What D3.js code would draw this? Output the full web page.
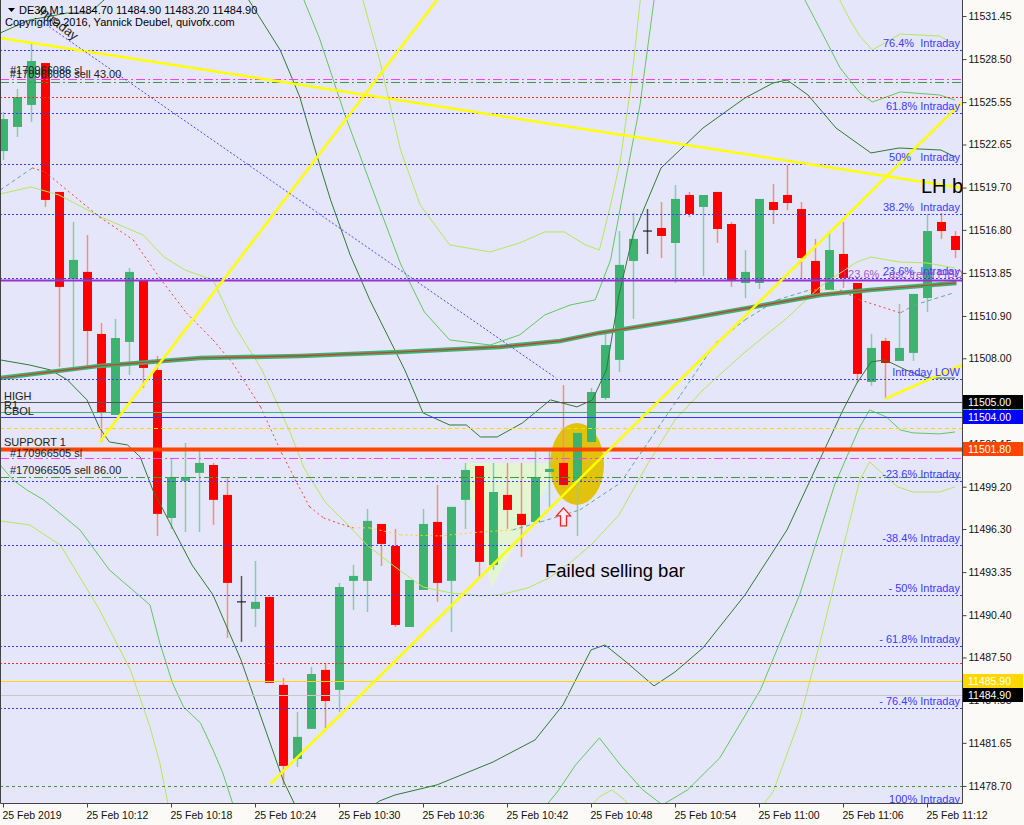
<!DOCTYPE html>
<html lang="en">
<head>
<meta charset="UTF-8"/>
<title>DE30 M1 - Failed selling bar</title>
<script src="https://d3js.org/d3.v7.min.js"></script>
<style>
    body { margin: 0; background: #fcfaf6; }
    svg text { font-family: "Liberation Sans", Arial, sans-serif; }
</style>
</head>
<body>
<div id="chart"></div>
<script>
// ---- candles, one per minute, index 0 = 10:06 ----
var opens  = [11522.20,11523.85,11525.36,11528.23,11519.40,11513.44,11513.92,11509.67,11504.12,11509.12,
              11513.30,11507.20,11497.06,11499.60,11500.15,11500.69,11498.64,11491.31,11490.83,11491.65,
              11485.62,11480.55,11482.61,11486.65,11485.28,11492.75,11492.75,11496.65,11495.14,11489.59,
              11492.13,11496.79,11492.75,11498.30,11500.62,11493.84,11498.64,11497.34,11496.79,11500.21,
              11500.83,11499.60,11502.27,11505.28,11507.89,11514.67,11516.72,11516.93,11515.90,11519.19,
              11518.37,11519.40,11517.20,11513.16,11513.16,11518.71,11519.19,11518.23,11514.67,11512.68,
              11515.15,11513.16,11506.38,11509.19,11507.82,11508.37,11512.13,11517.34,11516.38];
var highs  = [11524.87,11526.45,11529.67,11528.23,11519.40,11517.34,11516.45,11510.42,11510.70,11514.19,
              11513.30,11508.16,11501.17,11502.20,11501.65,11500.83,11499.87,11493.09,11494.12,11491.65,
              11486.10,11483.77,11486.85,11487.13,11492.61,11493.84,11497.68,11496.65,11496.31,11492.81,
              11497.68,11499.32,11497.82,11500.83,11500.62,11500.83,11500.83,11500.83,11501.65,11501.65,
              11506.17,11502.89,11505.97,11509.94,11516.72,11517.96,11518.23,11518.71,11519.88,11519.40,
              11519.19,11519.40,11517.34,11515.42,11518.92,11519.94,11521.25,11518.71,11516.18,11516.72,
              11517.34,11513.16,11509.67,11509.39,11511.72,11512.41,11517.89,11517.96,11516.72];
var lows   = [11521.59,11523.16,11524.19,11518.37,11507.41,11507.41,11507.34,11502.27,11504.12,11506.86,
              11505.97,11495.83,11496.31,11496.10,11496.10,11496.58,11488.84,11488.57,11489.59,11485.76,
              11478.77,11480.00,11482.61,11482.67,11483.77,11490.76,11490.62,11493.77,11489.59,11489.59,
              11492.13,11491.31,11489.25,11496.31,11493.02,11493.50,11496.31,11494.39,11496.79,11497.82,
              11499.19,11495.83,11502.06,11505.15,11507.06,11510.70,11515.15,11514.87,11513.16,11517.68,
              11513.64,11515.90,11512.89,11512.13,11512.75,11517.20,11518.16,11513.44,11512.20,11512.68,
              11512.82,11506.31,11506.11,11505.22,11507.82,11507.82,11511.18,11516.18,11514.87];
var closes = [11524.39,11525.90,11528.37,11518.85,11512.89,11514.74,11509.87,11504.32,11509.39,11513.92,
              11507.34,11497.34,11499.87,11499.87,11500.83,11498.30,11492.61,11491.31,11491.31,11485.76,
              11480.07,11482.06,11486.37,11484.52,11492.33,11493.09,11496.86,11495.28,11489.73,11492.81,
              11496.65,11492.61,11497.82,11500.35,11494.05,11498.84,11497.61,11496.58,11499.87,11500.42,
              11499.32,11502.89,11505.69,11508.91,11514.40,11516.18,11516.72,11516.38,11518.92,11517.89,
              11519.19,11516.86,11513.37,11513.92,11518.92,11518.16,11518.64,11514.87,11512.20,11515.42,
              11513.50,11506.93,11508.71,11507.68,11508.71,11512.41,11516.72,11516.72,11515.42];

// ---- axis ticks ----
var priceTicks = [11531.45,11528.50,11525.55,11522.65,11519.70,11516.80,11513.85,11510.90,11508.00,11505.05,
                  11502.15,11499.20,11496.30,11493.35,11490.40,11487.50,11484.55,11481.65,11478.70];
var timeTickIdx = [0,6,12,18,24,30,36,42,48,54,60,66];
var timeLabels = ["25 Feb 2019","25 Feb 10:12","25 Feb 10:18","25 Feb 10:24","25 Feb 10:30","25 Feb 10:36",
                  "25 Feb 10:42","25 Feb 10:48","25 Feb 10:54","25 Feb 11:00","25 Feb 11:06","25 Feb 11:12"];

// ---- indicator lines [bar index, price]; null = gap ----
var maSlow = [[-0.2,11506.65],[6.9,11507.48],[14.1,11508.02],[21.2,11508.16],[28.4,11508.43],[35.5,11508.78],
              [39.8,11509.19],[42.6,11509.74],[48.4,11510.63],[53.6,11511.52],[58.4,11512.34],[61.9,11512.68],[68.1,11513.16]];
var midDotted = [[-0.2,11519.53],[2.1,11521.04],[3.0,11520.77],[6.9,11517.68],[9.3,11516.11],[11.2,11513.50],
                 [13.1,11511.11],[15.0,11509.26],[16.4,11507.68],[18.4,11504.67],[19.9,11501.51],[21.0,11499.46],
                 [21.9,11497.82],[22.9,11497.06],[23.9,11496.72],[25.0,11496.38],[26.2,11496.38],[28.4,11495.90],
                 [31.2,11495.83],[34.1,11496.10],[36.4,11496.24],[38.4,11496.79],[41.2,11497.61],[44.1,11499.46],
                 [46.2,11502.41],[48.4,11505.49],[50.9,11509.05],[53.0,11510.63],[55.3,11512.00],[57.6,11512.68],
                 [59.8,11512.68],[61.2,11512.00],[64.1,11511.11],[65.1,11511.65],[67.9,11512.48]];
var bandMid = [[-0.2,11519.26],[2.0,11519.74],[4.0,11519.19],[7.0,11517.68],[10.0,11516.45],[11.5,11514.94],
               [13.0,11514.05],[15.0,11513.37],[16.5,11510.28],[18.5,11507.20],[20.5,11502.95],[21.5,11500.49],
               [23.0,11498.16],[24.5,11496.72],[26.0,11495.21],[28.0,11493.71],[30.0,11492.33],[32.0,11491.92],
               [34.0,11491.72],[35.5,11491.79],[37.5,11492.27],[39.0,11492.95],[40.5,11493.98],[42.0,11495.21],
               [44.0,11497.27],[46.0,11500.69],[48.0,11503.78],[50.0,11505.83],[53.0,11508.43],[56.0,11510.76],
               [58.5,11513.02],[61.0,11514.60],[62.0,11514.94],[64.0,11514.60],[66.0,11514.53],[68.0,11514.19]];
var innerUpper = [[-0.2,11530.29],[1.9,11531.18],[4.6,11531.66],[6.2,11531.66],[8.0,11533.24],null,
                  [17.1,11533.24],[19.8,11529.12],[20.7,11527.07],[21.2,11525.90],[22.3,11522.27],[23.4,11518.85],
                  [24.8,11515.08],[26.2,11512.00],[28.7,11507.20],[30.0,11504.26],[31.9,11503.43],[33.1,11503.43],
                  [34.1,11502.61],[35.3,11502.61],[37.1,11503.57],[39.1,11505.15],[41.0,11504.67],[42.1,11505.15],
                  [43.1,11507.20],[44.0,11512.34],[45.0,11516.45],[47.0,11521.04],[50.0,11523.78],[53.0,11525.84],
                  [55.0,11526.86],[56.0,11527.07],[57.5,11526.04],[59.5,11523.78],[61.0,11522.75],[62.0,11522.07],
                  [64.0,11522.41],[67.0,11522.27],[68.0,11521.79]];
var innerLower = [[-0.2,11507.89],[1.9,11507.54],[3.4,11507.20],[4.6,11506.52],[6.0,11505.15],[6.9,11503.23],
                  [7.6,11502.27],[8.9,11502.06],[9.8,11501.24],[10.7,11498.98],[12.0,11496.58],[13.5,11493.84],
                  [15.0,11491.79],[17.0,11487.33],[18.5,11483.22],[20.0,11479.11],[21.2,11476.71],null,
                  [25.5,11476.71],[26.9,11477.67],[28.0,11478.08],[31.0,11478.77],[35.0,11480.34],[38.0,11481.85],
                  [40.0,11484.25],[42.0,11488.02],[43.0,11488.36],[44.5,11487.20],[46.5,11485.55],[48.0,11486.51],
                  [50.0,11488.16],[53.0,11491.79],[56.0,11496.24],[58.5,11501.38],[60.0,11504.46],[61.0,11506.31],
                  [62.0,11507.75],[63.0,11507.89],[64.5,11507.20],[66.0,11506.65],[68.0,11506.65]];
var middleUpper = [[21.2,11533.24],[22.6,11529.95],[24.4,11524.74],[26.6,11519.05],[28.4,11514.46],[30.1,11511.17],
                   [31.9,11509.26],[34.8,11508.91],[36.9,11509.60],[38.7,11510.97],[40.5,11511.65],[42.3,11512.00],
                   [43.4,11514.74],[44.4,11519.88],[45.5,11525.36],[46.6,11533.24],null,
                   [56.9,11533.24],[58.4,11530.49],[59.8,11527.89],[61.2,11526.18],[62.1,11525.56],[64.1,11526.25],
                   [66.9,11526.04],[68.0,11525.70]];
var middleLower = [[-0.2,11500.69],[0.7,11499.67],[1.7,11498.98],[2.9,11498.30],[5.5,11496.24],[7.6,11493.50],
                   [10.5,11491.10],[11.2,11488.50],[12.1,11485.76],[12.9,11484.11],[14.1,11483.02],[15.0,11481.17],
                   [15.7,11479.59],[16.6,11476.92],null,
                   [38.4,11476.92],[39.6,11478.29],[40.9,11480.14],[42.6,11481.99],[44.1,11480.14],[45.7,11478.43],
                   [47.1,11477.40],[48.9,11478.43],[51.2,11480.62],[54.1,11485.28],[56.9,11491.79],[59.4,11499.32],
                   [61.2,11503.30],[61.9,11504.46],[63.1,11503.98],[64.1,11503.09],[65.0,11502.89],[66.9,11502.82],[68.0,11502.95]];
var outerUpper = [[25.5,11533.24],[26.9,11528.44],[28.4,11522.27],[29.8,11518.51],[31.9,11515.77],[34.8,11515.29],
                  [36.9,11515.90],[38.7,11516.66],[40.1,11516.66],[41.6,11515.77],[42.6,11515.42],[43.4,11518.51],
                  [44.1,11521.59],[44.9,11527.07],[45.6,11533.24],null,
                  [59.4,11533.24],[60.5,11531.18],[61.2,11530.08],[62.1,11529.13],[64.1,11530.22],[66.9,11530.08],[68.0,11529.47]];
var outerLower = [[-0.2,11496.86],[1.9,11496.58],[4.1,11495.21],[6.9,11490.76],[9.1,11486.65],[10.5,11482.74],
                  [11.2,11480.28],[11.9,11476.92],null,
                  [41.6,11476.92],[42.6,11477.95],[43.5,11478.43],[44.4,11477.74],[45.1,11476.92],null,
                  [53.9,11476.92],[55.0,11478.29],[56.9,11483.22],[58.4,11488.70],[59.8,11494.19],[61.2,11499.67],
                  [61.9,11500.90],[63.9,11499.19],[65.0,11498.84],[66.9,11498.84],[68.0,11499.19]];

// ---- horizontal levels ----
var fibPrices = [11529.12,11524.81,11521.31,11517.89,11513.50,11506.59,11499.60,11495.21,11491.79,11488.29,11484.05,11477.33];
var fibLabels = ["76.4%  Intraday","61.8% Intraday","50%   Intraday","38.2%  Intraday","23.6%  Intraday","Intraday LOW",
                 "-23.6% Intraday","-38.4% Intraday","- 50% Intraday","- 61.8% Intraday","- 76.4% Intraday","100% Intraday"];
var levelNames  = ["sellOrder","orderTp","redDot1","purple","high","cbol","pivot","yellowDash","support","sellOrder2","orderTp2","redDot2","bid","ask","greenDot"];
var levelPrices = [11527.17,11526.93,11525.90,11513.37,11505.00,11504.32,11504.00,11503.23,11501.80,11501.14,11499.87,11487.13,11485.90,11484.90,11478.70];
var tagNames  = ["cbol","high","pivot","support","bid","ask"];
var tagPrices = [11504.32,11505.00,11504.00,11501.80,11485.90,11484.90];

// ---- drawn objects [bar index, price] ----
var trendLines = [[6.9,11502.27,31.0,11532.55],[-0.2,11529.95,68.5,11519.67],[19.1,11478.84,68.5,11525.56],[63.0,11505.22,68.5,11507.55]];
var channelLine = [2.6,11531.18,39.5,11506.65];
var triangle = [[32.9,11500.83],[39.8,11500.83],[34.9,11492.27]];
var ellipseAt = [41.0,11500.76];

// ---- layout ----
var width = 1024, height = 825, plotW = 962, plotH = 803;

var svg = d3.select("#chart").append("svg")
    .attr("width", width)
    .attr("height", height);

svg.append("rect").attr("width", width).attr("height", height).attr("fill", "#fcfaf6");

var xScale = d3.scaleLinear().domain([0, 68]).range([3, 955]);
var yScale = d3.scaleLinear().domain([11477.53, 11532.55]).range([plotH, 0]);

svg.append("clipPath").attr("id", "plotClip")
    .append("rect").attr("width", plotW).attr("height", plotH);

var plot = svg.append("g").attr("clip-path", "url(#plotClip)");
plot.append("rect").attr("width", plotW).attr("height", plotH).attr("fill", "#e6e6fa");

var line = d3.line()
    .defined(function(d) { return d !== null; })
    .x(function(d) { return xScale(d[0]); })
    .y(function(d) { return yScale(d[1]); });

// background objects
plot.append("path")
    .attr("d", line(triangle) + "Z")
    .attr("fill", "#e3f6cf").attr("opacity", 0.9);

var ex = xScale(ellipseAt[0]), ey = yScale(ellipseAt[1]);
plot.append("ellipse")
    .attr("cx", ex).attr("cy", ey)
    .attr("rx", xScale(ellipseAt[0] + 1.93) - ex)
    .attr("ry", yScale(ellipseAt[1] - 2.81) - ey)
    .attr("fill", "#e2c30c");

// candles
var bars = d3.range(opens.length).map(function(i) {
    return { i: i, o: opens[i], h: highs[i], l: lows[i], c: closes[i] };
});
function barColor(d) { return d.c > d.o ? "#3cb371" : (d.c < d.o ? "#ff0000" : "#000000"); }
function wickColor(d) { return d.c > d.o ? "#8cc9ad" : (d.c < d.o ? "#f28c8c" : "#555555"); }

plot.selectAll("line.wick").data(bars).enter().append("line")
    .attr("class", "wick")
    .attr("x1", function(d) { return xScale(d.i) + 0.5; })
    .attr("x2", function(d) { return xScale(d.i) + 0.5; })
    .attr("y1", function(d) { return yScale(d.h); })
    .attr("y2", function(d) { return yScale(d.l); })
    .attr("stroke", wickColor)
    .attr("stroke-width", 1.5);

plot.selectAll("rect.body").data(bars.filter(function(d) { return d.o !== d.c; })).enter().append("rect")
    .attr("class", "body")
    .attr("x", function(d) { return xScale(d.i) - 4; })
    .attr("width", 9)
    .attr("y", function(d) { return yScale(Math.max(d.o, d.c)); })
    .attr("height", function(d) { return Math.max(1, yScale(Math.min(d.o, d.c)) - yScale(Math.max(d.o, d.c))); })
    .attr("fill", barColor);

plot.selectAll("line.doji").data(bars.filter(function(d) { return d.o === d.c; })).enter().append("line")
    .attr("class", "doji")
    .attr("x1", function(d) { return xScale(d.i) - 4; })
    .attr("x2", function(d) { return xScale(d.i) + 5; })
    .attr("y1", function(d) { return yScale(d.o); })
    .attr("y2", function(d) { return yScale(d.o); })
    .attr("stroke", "#000").attr("stroke-width", 1);

// bands
function drawLine(data, color, w, dash) {
    plot.append("path").attr("d", line(data))
        .attr("fill", "none").attr("stroke", color)
        .attr("stroke-width", w).attr("stroke-dasharray", dash || null);
}
drawLine(outerUpper, "#b4e85a", 1);
drawLine(outerLower, "#b4e85a", 1);
drawLine(middleUpper, "#5fc95f", 1);
drawLine(middleLower, "#5fc95f", 1);
drawLine(innerUpper, "#2f7b34", 1);
drawLine(innerLower, "#2f7b34", 1);
drawLine(bandMid, "#b4e85a", 1);

// mid dotted line coloured by direction
for (var s = 0; s < midDotted.length - 1; s++) {
    var a = midDotted[s], b = midDotted[s + 1];
    var slope = (b[1] - a[1]) / (b[0] - a[0]);
    var col = slope > 0.25 ? "#5fa8a0" : (slope < -0.25 ? "#ff3b3b" : "#ffd21f");
    plot.append("line")
        .attr("x1", xScale(a[0])).attr("y1", yScale(a[1]))
        .attr("x2", xScale(b[0])).attr("y2", yScale(b[1]))
        .attr("stroke", col).attr("stroke-width", 1)
        .attr("stroke-dasharray", slope > 0.25 ? "4,3" : "2,3");
}

// slow moving average
drawLine(maSlow, "#3cb371", 4.5);
drawLine(maSlow, "#e0302a", 1.2);

// horizontal levels
var levelStyle = {
    sellOrder:  { c: "#ff3cff", w: 1.2, d: "9,3,2,3" },
    orderTp:    { c: "#3c9a3c", w: 1.2, d: "9,3,2,3" },
    redDot1:    { c: "#e83030", w: 1, d: "2,2" },
    purple:     { c: "#9932cc", w: 2, d: null },
    high:       { c: "#555555", w: 1, d: null },
    cbol:       { c: "#3cb371", w: 1, d: null },
    pivot:      { c: "#3535ff", w: 1, d: null },
    yellowDash: { c: "#ffd700", w: 1, d: "4,3" },
    support:    { c: "#ff4500", w: 4, d: null },
    sellOrder2: { c: "#ff3cff", w: 1.2, d: "9,3,2,3" },
    orderTp2:   { c: "#3c9a3c", w: 1.2, d: "9,3,2,3" },
    redDot2:    { c: "#e83030", w: 1, d: "2,2" },
    bid:        { c: "#ffd700", w: 1, d: null },
    ask:        { c: "#c8c8c8", w: 1, d: null },
    greenDot:   { c: "#3c9a3c", w: 1, d: "3,3" }
};

plot.selectAll("line.fib").data(fibPrices).enter().append("line")
    .attr("class", "fib")
    .attr("x1", 0).attr("x2", plotW)
    .attr("y1", function(d) { return Math.round(yScale(d)) + 0.5; })
    .attr("y2", function(d) { return Math.round(yScale(d)) + 0.5; })
    .attr("stroke", "#3a3aff").attr("stroke-width", 1).attr("stroke-dasharray", "2,2");

plot.selectAll("line.level").data(levelPrices).enter().append("line")
    .attr("class", "level")
    .attr("x1", 0).attr("x2", plotW)
    .attr("y1", function(d) { return Math.round(yScale(d)) + 0.5; })
    .attr("y2", function(d) { return Math.round(yScale(d)) + 0.5; })
    .attr("stroke", function(d, i) { return levelStyle[levelNames[i]].c; })
    .attr("stroke-width", function(d, i) { return levelStyle[levelNames[i]].w; })
    .attr("stroke-dasharray", function(d, i) { return levelStyle[levelNames[i]].d; });

// trend lines
plot.selectAll("line.trend").data(trendLines).enter().append("line")
    .attr("x1", function(d) { return xScale(d[0]); }).attr("y1", function(d) { return yScale(d[1]); })
    .attr("x2", function(d) { return xScale(d[2]); }).attr("y2", function(d) { return yScale(d[3]); })
    .attr("stroke", "#ffff00").attr("stroke-width", 2.5);

plot.append("line")
    .attr("x1", xScale(channelLine[0])).attr("y1", yScale(channelLine[1]))
    .attr("x2", xScale(channelLine[2])).attr("y2", yScale(channelLine[3]))
    .attr("stroke", "#4a4aff").attr("stroke-width", 1).attr("stroke-dasharray", "2,2");

// up arrow under the failed bar
var ax = xScale(40) + 0.5, ay = yScale(11497.75);
plot.append("path")
    .attr("d", "M" + ax + "," + ay + " l7,8 h-4 v10 h-6 v-10 h-4 Z")
    .attr("fill", "#f4eef4").attr("stroke", "#ff2020").attr("stroke-width", 1.3);

// texts on the chart
plot.append("text").attr("x", 545).attr("y", 577)
    .attr("font-size", "18.5px").attr("fill", "#000").text("Failed selling bar");
plot.append("text").attr("x", 921).attr("y", 193)
    .attr("font-size", "20px").attr("fill", "#000").text("LH b");

plot.selectAll("text.fib").data(fibPrices).enter().append("text")
    .attr("class", "fib")
    .attr("x", plotW - 2)
    .attr("y", function(d) { return yScale(d) - 3; })
    .attr("text-anchor", "end")
    .attr("font-size", "11px")
    .attr("fill", "#3a3aff")
    .style("white-space", "pre")
    .text(function(d, i) { return fibLabels[i]; });

plot.append("text").attr("x", 842).attr("y", yScale(11513.37) - 2)
    .attr("font-size", "11px").attr("fill", "#9932cc").attr("opacity", 0.8)
    .text("123.6% - asc trend FIBO");

var leftLabels = [["HIGH", 11505.00, -2], ["R1", 11505.00, 7], ["CBOL", 11504.32, 3], ["SUPPORT 1", 11501.80, -3],
                  ["#170966505 sl", 11501.14, -1], ["#170966505 sell 86.00", 11499.87, -3]];
plot.selectAll("text.left").data(leftLabels).enter().append("text")
    .attr("x", function(d, i) { return i > 3 ? 10 : 4; })
    .attr("y", function(d) { return yScale(d[1]) + d[2]; })
    .attr("font-size", "11px").attr("fill", "#222")
    .text(function(d) { return d[0]; });

plot.append("text").attr("x", 10).attr("y", 74).attr("font-size", "11px").attr("fill", "#222").text("#170966086 sl");
plot.append("text").attr("x", 10).attr("y", 78).attr("font-size", "11px").attr("fill", "#222").text("#170966088 sell 43.00");

plot.append("text")
    .attr("transform", "translate(74,41) rotate(38)")
    .attr("text-anchor", "end")
    .attr("font-size", "13px").attr("fill", "#222")
    .text("Intraday");

plot.append("path").attr("d", "M8,8 h7 l-3.5,4 Z").attr("fill", "#000");
plot.append("text").attr("x", 19).attr("y", 14).attr("font-size", "11px").attr("fill", "#000")
    .text("DE30,M1  11484.70 11484.90 11483.20 11484.90");
plot.append("text").attr("x", 5).attr("y", 26).attr("font-size", "11px").attr("fill", "#000")
    .text("Copyright\u00a9 2016, Yannick Deubel, quivofx.com");

// frame
svg.append("path")
    .attr("d", "M0.5,0 V" + (plotH + 0.5) + " H" + (plotW + 0.5) + " V0")
    .attr("fill", "none").attr("stroke", "#444").attr("stroke-width", 1);

// price axis
var yAxis = d3.axisRight(yScale).tickValues(priceTicks).tickSize(4)
    .tickFormat(d3.format(".2f"));
var yG = svg.append("g").attr("transform", "translate(" + (plotW + 0.5) + ",0)").call(yAxis);
yG.select(".domain").remove();
yG.selectAll("text").attr("font-size", "10.5px").attr("fill", "#111").attr("x", 6);
yG.selectAll("line").attr("stroke", "#444");

// time axis
var xAxis = d3.axisBottom(xScale).tickValues(timeTickIdx).tickSize(4)
    .tickFormat(function(d, i) { return timeLabels[i]; });
var xG = svg.append("g").attr("transform", "translate(0," + (plotH + 0.5) + ")").call(xAxis);
xG.select(".domain").remove();
xG.selectAll("text").attr("font-size", "10.5px").attr("fill", "#111")
    .attr("text-anchor", "start").attr("x", -1).attr("y", 8);
xG.selectAll("line").attr("stroke", "#444");

// price tags on the axis
var tagFill = { cbol: "#3cb371", high: "#000000", pivot: "#0000ff", support: "#ff4500", bid: "#ffd700", ask: "#000000" };
var tags = svg.selectAll("g.tag").data(tagPrices).enter().append("g")
    .attr("transform", function(d) { return "translate(" + (plotW + 1) + "," + Math.round(yScale(d)) + ")"; });
tags.append("rect").attr("x", 0).attr("y", -7).attr("width", 60).attr("height", 14)
    .attr("fill", function(d, i) { return tagFill[tagNames[i]]; });
tags.append("text").attr("x", 5).attr("y", 4)
    .attr("font-size", "10.5px").attr("fill", "#fff")
    .text(function(d) { return d3.format(".2f")(d); });
</script>
</body>
</html>
